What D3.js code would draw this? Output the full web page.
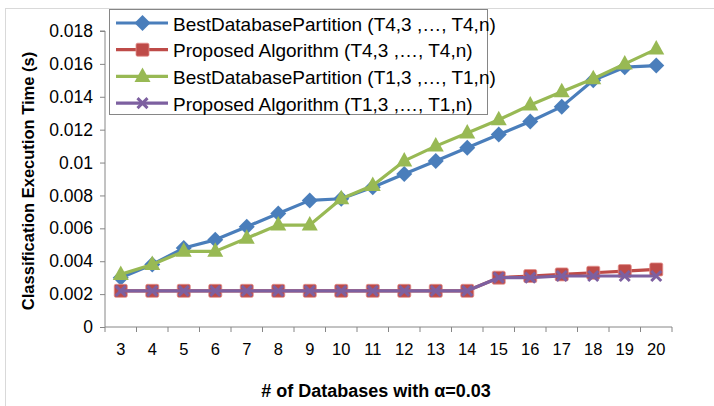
<!DOCTYPE html>
<html><head><meta charset="utf-8">
<script src="https://cdn.jsdelivr.net/npm/d3@7"></script>
<style>body{margin:0;background:#fff}svg{display:block;font-family:"Liberation Sans",Arial,sans-serif}</style>
</head><body><svg id="c" width="714" height="406"></svg>
<script>
const categories = [3,4,5,6,7,8,9,10,11,12,13,14,15,16,17,18,19,20];
const bestT4 = [0.0030,0.0038,0.0048,0.0053,0.0061,0.0069,0.0077,0.0078,0.0085,0.0093,0.0101,0.0109,0.0117,0.0125,0.0134,0.0150,0.0158,0.0159];
const propT4 = [0.0022,0.0022,0.0022,0.0022,0.0022,0.0022,0.0022,0.0022,0.0022,0.0022,0.0022,0.0022,0.0030,0.0031,0.0032,0.0033,0.0034,0.0035];
const bestT1 = [0.0032,0.0038,0.0046,0.0046,0.0054,0.0062,0.0062,0.0078,0.0086,0.0101,0.0110,0.0118,0.0126,0.0135,0.0143,0.0151,0.0160,0.0169];
const propT1 = [0.0022,0.0022,0.0022,0.0022,0.0022,0.0022,0.0022,0.0022,0.0022,0.0022,0.0022,0.0022,0.0030,0.0030,0.0031,0.0031,0.0031,0.0031];
const yTicks = [0,0.002,0.004,0.006,0.008,0.01,0.012,0.014,0.016,0.018];
const seriesNames = ["BestDatabasePartition (T4,3 ,…, T4,n)","Proposed Algorithm (T4,3 ,…, T4,n)","BestDatabasePartition (T1,3 ,…, T1,n)","Proposed Algorithm (T1,3 ,…, T1,n)"];

const series = [
  {name:seriesNames[0], values:bestT4, color:"#4a7ebb", marker:"diamond"},
  {name:seriesNames[1], values:propT4, color:"#be4b48", marker:"square"},
  {name:seriesNames[2], values:bestT1, color:"#98b954", marker:"triangle"},
  {name:seriesNames[3], values:propT1, color:"#7d60a0", marker:"x"}
];

const svg = d3.select("#c");
const FONT = "Liberation Sans, Arial, sans-serif";
const L=105, R=672, T=31, B=327;
const x = d3.scaleBand().domain(categories).range([L,R]);
const y = d3.scaleLinear().domain([0,0.018]).range([B,T]);

// outer frame lines
svg.append("line").attr("x1",5.5).attr("x2",5.5).attr("y1",8).attr("y2",406).attr("stroke","#d9d9d9");
svg.append("line").attr("x1",5).attr("x2",714).attr("y1",8.5).attr("y2",8.5).attr("stroke","#d9d9d9");

// y axis
const ya = svg.append("g").attr("transform",`translate(${L},0)`)
  .call(d3.axisLeft(y).tickValues(yTicks).tickSize(5).tickPadding(7).tickFormat(d=>d===0?"0":String(+d.toFixed(3))));
ya.select(".domain").attr("stroke","#868686").attr("d",`M-5,${T}H0V${B}`);
ya.selectAll(".tick line").attr("stroke","#868686");
ya.selectAll("text").attr("font-size",17.5).attr("fill","#000").style("font-family",FONT);

// x axis
const xa = svg.append("g").attr("transform",`translate(0,${B})`)
  .call(d3.axisBottom(x).tickSize(0).tickPadding(16));
xa.select(".domain").attr("stroke","#868686").attr("d",`M${L},0H${R}`);
xa.selectAll("text").attr("font-size",16.5).attr("fill","#000").style("font-family",FONT);
const bounds = categories.map(c=>x(c)).concat([R]);
xa.selectAll(".bt").data(bounds).enter().append("line").attr("class","bt")
  .attr("x1",d=>d).attr("x2",d=>d).attr("y1",0).attr("y2",5).attr("stroke","#868686");

// titles
svg.append("text").attr("transform",`translate(30,${(T+B)/2+2}) rotate(-90)`).attr("text-anchor","middle")
  .attr("dominant-baseline","middle").attr("font-size",16.5).attr("font-weight","bold").text("Classification Execution Time (s)");
svg.append("text").attr("x",376).attr("y",397).attr("text-anchor","middle")
  .attr("font-size",18).attr("font-weight","bold").text("# of Databases with α=0.03");

const cx = d=>x(d)+x.bandwidth()/2;
function drawMarker(g, type, color, px, py){
  if(type==="diamond"){
    g.append("path").attr("d","M0,-8L8,0L0,8L-8,0Z").attr("transform",`translate(${px},${py})`).attr("fill",color);
  } else if(type==="square"){
    g.append("rect").attr("x",px-6.5).attr("y",py-6.5).attr("width",13).attr("height",13).attr("rx",1.5).attr("fill",color).attr("stroke","#e38f8c").attr("stroke-width",0.8);
  } else if(type==="triangle"){
    g.append("path").attr("d","M0,-9L8,5.5L-8,5.5Z").attr("transform",`translate(${px},${py})`).attr("fill",color);
  } else {
    g.append("path").attr("d","M-5,-5L5,5M-5,5L5,-5").attr("transform",`translate(${px},${py})`).attr("stroke",color).attr("stroke-width",3).attr("fill","none");
  }
}

const line = d3.line().x((d,i)=>cx(categories[i])).y(d=>y(d));
series.forEach(s=>{
  const g = svg.append("g");
  g.append("path").datum(s.values).attr("d",line).attr("fill","none").attr("stroke",s.color).attr("stroke-width",3.2).attr("stroke-linejoin","round");
  s.values.forEach((v,i)=>drawMarker(g,s.marker,s.color,cx(categories[i]),y(v)));
});

// legend
const lg = svg.append("g");
lg.append("rect").attr("x",109.5).attr("y",9.5).attr("width",378).attr("height",105).attr("fill","#fff").attr("stroke","#868686").attr("stroke-width",1);
series.forEach((s,i)=>{
  const yy = 23 + i*26.7;
  lg.append("line").attr("x1",116).attr("x2",168).attr("y1",yy).attr("y2",yy).attr("stroke",s.color).attr("stroke-width",3.2);
  drawMarker(lg,s.marker,s.color,142.5,yy);
  lg.append("text").attr("x",173).attr("y",yy+1).attr("dominant-baseline","central").attr("font-size",19).attr("fill","#000").text(s.name);
});
</script></body></html>
